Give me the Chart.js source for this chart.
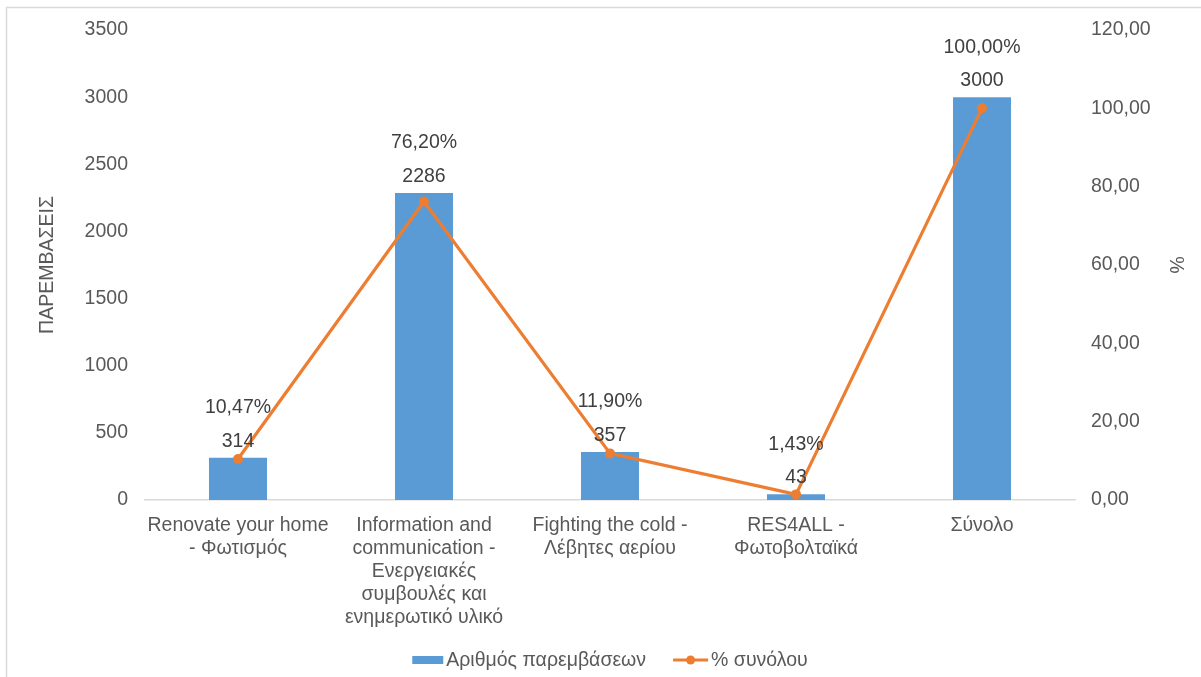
<!DOCTYPE html>
<html>
<head>
<meta charset="utf-8">
<title>Παρεμβάσεις</title>
<script src="https://cdn.jsdelivr.net/npm/chart.js@4/dist/chart.umd.min.js"></script>
<style>
  html, body { margin: 0; padding: 0; background: #ffffff; }
  #wrap { width: 1201px; height: 677px; }
</style>
</head>
<body>
<div id="wrap"><canvas id="chart" width="1201" height="677"></canvas></div>
<script>
// Categories (multi-line axis labels)
const categories = [
  ['Renovate your home', '- Φωτισμός'],
  ['Information and', 'communication -', 'Ενεργειακές', 'συμβουλές και', 'ενημερωτικό υλικό'],
  ['Fighting the cold -', 'Λέβητες αερίου'],
  ['RES4ALL -', 'Φωτοβολταϊκά'],
  ['Σύνολο']
];
// Number of interventions per programme
const interventionCounts = [314, 2286, 357, 43, 3000];
// Share of the total, in percent
const sharePercent = [10.47, 76.20, 11.90, 1.43, 100.00];

const seriesNames = ['Αριθμός παρεμβάσεων', '% συνόλου'];
const leftAxisTitle = 'ΠΑΡΕΜΒΑΣΕΙΣ';
const rightAxisTitle = '%';
const leftAxisRange = { min: 0, max: 3500, step: 500 };
const rightAxisRange = { min: 0, max: 120, step: 20 };

const FONT = '"Liberation Sans", Arial, Helvetica, sans-serif';
const FONT_SIZE = 19.5;
const BLUE = '#5B9BD5';
const ORANGE = '#ED7D31';
const TICK_COLOR = '#595959';
const LABEL_COLOR = '#404040';

const fmtComma = (v) => v.toFixed(2).replace('.', ',');

// Thin frame on the left and top edges
const framePlugin = {
  id: 'frame',
  beforeDraw(chart) {
    const ctx = chart.ctx;
    ctx.save();
    ctx.strokeStyle = '#d9d9d9';
    ctx.lineWidth = 1.5;
    ctx.beginPath();
    ctx.moveTo(6.5, chart.height);
    ctx.lineTo(6.5, 7.5);
    ctx.lineTo(chart.width, 7.5);
    ctx.stroke();
    ctx.restore();
  }
};

// Value and share labels above each bar
const valueLabelsPlugin = {
  id: 'valueLabels',
  afterDatasetsDraw(chart) {
    const ctx = chart.ctx;
    const barMeta = chart.getDatasetMeta(0);
    const bars = chart.data.datasets[0].data;
    const shares = chart.data.datasets[1].data;
    ctx.save();
    ctx.font = FONT_SIZE + 'px ' + FONT;
    ctx.fillStyle = LABEL_COLOR;
    ctx.textAlign = 'center';
    ctx.textBaseline = 'middle';
    barMeta.data.forEach((el, i) => {
      ctx.fillText(String(bars[i]), el.x, el.y - 16.5);
      ctx.fillText(fmtComma(shares[i]) + '%', el.x, el.y - 50);
    });
    ctx.restore();
  }
};

// Legend row under the axis labels
const legendRowPlugin = {
  id: 'legendRow',
  afterDraw(chart) {
    const ctx = chart.ctx;
    const ds = chart.data.datasets;
    const area = chart.chartArea;
    const y = 660;
    ctx.save();
    ctx.font = FONT_SIZE + 'px ' + FONT;
    ctx.textBaseline = 'middle';
    ctx.textAlign = 'left';
    const w1 = ctx.measureText(ds[0].label).width;
    const w2 = ctx.measureText(ds[1].label).width;
    const boxW = 31, lineW = 35, gapText = 3, gapItems = 27;
    const total = boxW + gapText + w1 + gapItems + lineW + gapText + w2;
    let x = (area.left + area.right) / 2 - total / 2;
    ctx.fillStyle = ds[0].backgroundColor;
    ctx.fillRect(x, y - 4, boxW, 8);
    x += boxW + gapText;
    ctx.fillStyle = TICK_COLOR;
    ctx.fillText(ds[0].label, x, y + 1);
    x += w1 + gapItems;
    ctx.strokeStyle = ds[1].borderColor;
    ctx.lineWidth = 3;
    ctx.beginPath();
    ctx.moveTo(x, y);
    ctx.lineTo(x + lineW, y);
    ctx.stroke();
    ctx.fillStyle = ds[1].borderColor;
    ctx.beginPath();
    ctx.arc(x + lineW / 2, y, 4.5, 0, Math.PI * 2);
    ctx.fill();
    x += lineW + gapText;
    ctx.fillStyle = TICK_COLOR;
    ctx.fillText(ds[1].label, x, y + 1);
    ctx.restore();
  }
};

new Chart(document.getElementById('chart'), {
  data: {
    labels: categories,
    datasets: [
      {
        type: 'bar',
        label: seriesNames[0],
        data: interventionCounts,
        backgroundColor: BLUE,
        yAxisID: 'y',
        order: 1,
        categoryPercentage: 1,
        barPercentage: 0.312
      },
      {
        type: 'line',
        label: seriesNames[1],
        data: sharePercent,
        borderColor: ORANGE,
        backgroundColor: ORANGE,
        borderWidth: 3.2,
        pointRadius: 5,
        pointBackgroundColor: ORANGE,
        pointBorderWidth: 0,
        tension: 0,
        yAxisID: 'y1',
        order: 0
      }
    ]
  },
  options: {
    responsive: false,
    animation: false,
    layout: { padding: { top: 30, left: 0, right: 0, bottom: 0 } },
    plugins: {
      legend: { display: false },
      tooltip: { enabled: false }
    },
    scales: {
      x: {
        grid: { display: false, drawTicks: false },
        border: { display: true, color: '#d9d9d9', width: 1.5 },
        ticks: {
          font: { family: FONT, size: FONT_SIZE, lineHeight: 1.18 },
          color: TICK_COLOR,
          padding: 14,
          maxRotation: 0,
          autoSkip: false
        },
        afterFit(scale) { scale.height = 177; }
      },
      y: {
        position: 'left',
        min: leftAxisRange.min,
        max: leftAxisRange.max,
        grid: { display: false, drawTicks: false },
        border: { display: false },
        ticks: {
          stepSize: leftAxisRange.step,
          font: { family: FONT, size: FONT_SIZE },
          color: TICK_COLOR,
          padding: 17,
          callback: (v) => String(v)
        },
        title: {
          display: true,
          text: leftAxisTitle,
          font: { family: FONT, size: FONT_SIZE, lineHeight: 1.2 },
          color: TICK_COLOR,
          padding: { top: 36, bottom: 0 }
        },
        afterFit(scale) { scale.width = 145; }
      },
      y1: {
        position: 'right',
        min: rightAxisRange.min,
        max: rightAxisRange.max,
        grid: { display: false, drawTicks: false },
        border: { display: false },
        ticks: {
          stepSize: rightAxisRange.step,
          font: { family: FONT, size: FONT_SIZE },
          color: TICK_COLOR,
          padding: 16,
          callback: (v) => fmtComma(v)
        },
        title: {
          display: true,
          text: rightAxisTitle,
          font: { family: FONT, size: FONT_SIZE, lineHeight: 1.2 },
          color: TICK_COLOR,
          padding: { top: 14, bottom: 0 }
        },
        afterFit(scale) { scale.width = 126; }
      }
    }
  },
  plugins: [framePlugin, valueLabelsPlugin, legendRowPlugin]
});
</script>
</body>
</html>
